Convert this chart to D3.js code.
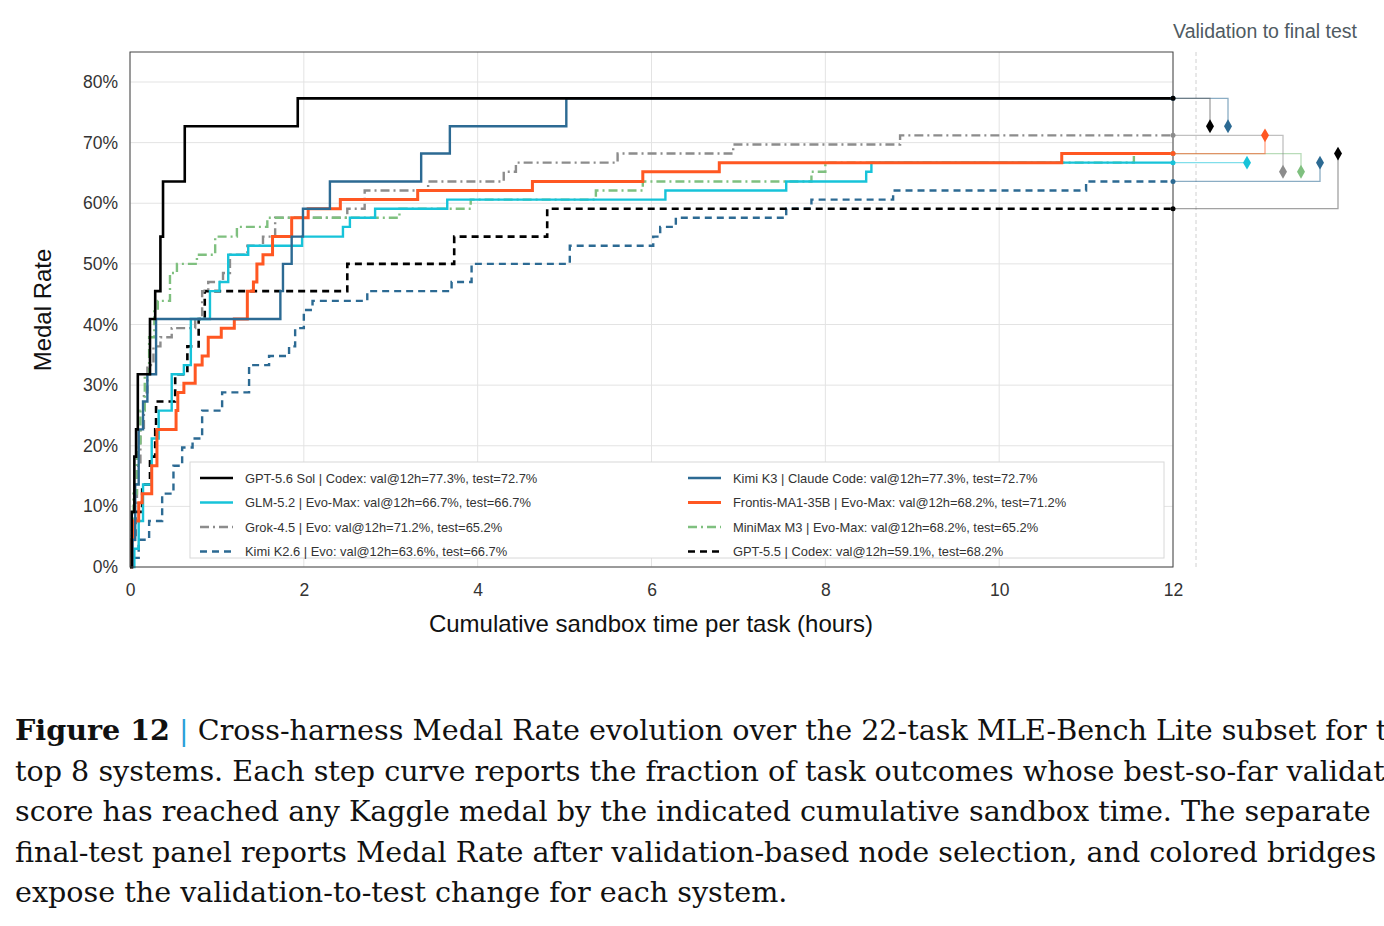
<!DOCTYPE html>
<html><head><meta charset="utf-8">
<script src="https://cdn.jsdelivr.net/npm/d3@7"></script>
<style>
body{margin:0;background:#fff;width:1384px;height:926px;overflow:hidden}
#cap{position:absolute;left:15px;top:710px;width:1353px;font-family:"DejaVu Serif","Liberation Serif",serif;font-size:28.6px;line-height:40.6px;color:#111}
#cap div{text-align:justify;text-align-last:justify;white-space:nowrap}
#cap div.last{text-align-last:left}
</style></head>
<body>
<svg id="chart" width="1384" height="680" style="position:absolute;left:0;top:0"></svg>
<div id="cap">
<div><b>Figure 12</b> <span style="color:#2aa0d8">|</span> Cross-harness Medal Rate evolution over the 22-task MLE-Bench Lite subset for the</div>
<div>top 8 systems. Each step curve reports the fraction of task outcomes whose best-so-far validation</div>
<div>score has reached any Kaggle medal by the indicated cumulative sandbox time. The separate</div>
<div>final-test panel reports Medal Rate after validation-based node selection, and colored bridges</div>
<div class="last">expose the validation-to-test change for each system.</div>
</div>
<script>
// step curves: [hours, medal rate %]
const gpt56 = [[0,0],[.02,9.1],[.05,18.2],[.07,22.7],[.09,31.8],[.23,40.9],[.29,45.5],[.35,54.5],[.38,63.6],[.63,72.7],[1.93,77.3]];
const kimiK3 = [[0,0],[.03,4.5],[.06,13.6],[.1,22.7],[.15,27.3],[.2,31.8],[.3,40.9],[1.73,45.5],[1.76,50],[1.86,54.5],[1.99,59.1],[2.3,63.6],[3.35,68.2],[3.68,72.7],[5.02,77.3]];
const glm52 = [[0,0],[.05,3],[.1,7.6],[.15,13.6],[.25,21.2],[.33,25.8],[.48,31.8],[.62,33.3],[.7,40.9],[.92,45.5],[1.03,47],[1.13,51.5],[1.36,53],[1.98,54.5],[2.45,56.1],[2.53,57.6],[2.82,59.1],[3.65,60.6],[6.16,62.1],[7.55,63.6],[8.47,65.2],[8.53,66.7]];
const frontis = [[0,0],[.02,4.5],[.05,7.6],[.1,10.6],[.14,12.1],[.25,16.7],[.31,22.7],[.53,25.8],[.55,28.8],[.62,30.3],[.75,33.3],[.83,34.8],[.9,37.9],[1.05,39.4],[1.2,40.9],[1.35,45.5],[1.42,47],[1.46,50],[1.53,51.5],[1.64,54.5],[1.86,57.6],[2.05,59.1],[2.42,60.6],[3.31,62.1],[4.63,63.6],[5.9,65.2],[6.78,66.7],[10.72,68.2]];
const grok45 = [[0,0],[.02,4.5],[.05,10.6],[.08,16.7],[.12,22.7],[.16,28.8],[.2,33.3],[.27,36.4],[.35,37.9],[.48,39.4],[.75,40.9],[.83,45.5],[.9,47],[1.07,48.5],[1.15,51.5],[1.35,53],[1.53,54.5],[1.67,57.6],[2.5,59.1],[2.7,62.1],[3.43,63.6],[4.3,65.2],[4.44,66.7],[5.61,68.2],[6.94,69.7],[8.86,71.2]];
const minimax = [[0,0],[.02,6],[.04,12.1],[.08,19.7],[.12,25.8],[.17,31.8],[.22,37.9],[.28,42.4],[.32,43.9],[.46,48.5],[.54,50],[.77,51.5],[.98,54.5],[1.23,56.1],[1.58,57.6],[3.1,59.1],[3.92,60.6],[5.36,62.1],[5.9,63.6],[7.84,65.2],[8.0,66.7],[11.55,68.2]];
const kimiK26 = [[0,0],[.02,1.5],[.1,4.5],[.22,7.6],[.37,12.1],[.5,16.7],[.6,19.7],[.72,21.2],[.83,25.8],[1.06,28.8],[1.37,33.3],[1.6,34.8],[1.83,36.4],[1.9,39.4],[2.0,42.4],[2.1,43.9],[2.73,45.5],[3.7,47],[3.93,50],[5.06,53],[6.02,54.5],[6.1,56.1],[6.28,57.6],[7.55,59.1],[7.84,60.6],[8.78,62.1],[11.0,63.6]];
const gpt55 = [[0,0],[.02,4.5],[.06,9.1],[.14,13.6],[.23,18.2],[.29,22.7],[.3,27.3],[.52,31.8],[.66,36.4],[.79,40.9],[.86,45.5],[2.5,50],[3.73,54.5],[4.8,59.1]];

const names = ['GPT-5.6 Sol | Codex','GLM-5.2 | Evo-Max','Grok-4.5 | Evo','Kimi K2.6 | Evo','Kimi K3 | Claude Code','Frontis-MA1-35B | Evo-Max','MiniMax M3 | Evo-Max','GPT-5.5 | Codex'];
const curves = [gpt56, glm52, grok45, kimiK26, kimiK3, frontis, minimax, gpt55];
const valAt12 = [77.3, 66.7, 71.2, 63.6, 77.3, 68.2, 68.2, 59.1];
const testRate = [72.7, 66.7, 65.2, 66.7, 72.7, 71.2, 65.2, 68.2];
const colors = ['#000000','#17c3d9','#8c8c8c','#2c6a93','#2c6a93','#ff5722','#7fc07f','#000000'];
const dashes = [null,null,'9,4,2,4','7,5',null,null,'9,4,2,4','7,5'];
const widths = [2.6,2.4,2.4,2.4,2.4,3,2.4,2.6];
const bridgeCol = [1210,1247,1283,1320,1228,1265,1301,1338];

const svg = d3.select('#chart');
const m = {l:130, r:1173, t:52, b:567};
const x = d3.scaleLinear().domain([0,12]).range([m.l, m.r]);
const y = d3.scaleLinear().domain([0,80]).range([m.b, 82]);
const font = 'Liberation Sans, Arial, sans-serif';

// grid
const g = svg.append('g');
g.selectAll('.gx').data(d3.range(0,13,2)).join('line')
  .attr('x1', d=>x(d)).attr('x2', d=>x(d)).attr('y1', m.t).attr('y2', m.b)
  .attr('stroke','#e3e3e3');
g.selectAll('.gy').data(d3.range(0,81,10)).join('line')
  .attr('x1', m.l).attr('x2', m.r).attr('y1', d=>y(d)).attr('y2', d=>y(d))
  .attr('stroke','#e3e3e3');

// axes
const xa = svg.append('g').attr('transform',`translate(0,${m.b})`)
  .call(d3.axisBottom(x).tickValues(d3.range(0,13,2)).tickSize(0).tickPadding(17));
const ya = svg.append('g').attr('transform',`translate(${m.l},0)`)
  .call(d3.axisLeft(y).tickValues(d3.range(0,81,10)).tickSize(0).tickPadding(12).tickFormat(d=>d+'%'));
[xa, ya].forEach(a => {
  a.select('.domain').remove();
  a.selectAll('text').attr('font-family',font).attr('font-size',17.5).attr('fill','#333');
});

svg.append('text').attr('x', 651).attr('y', 632).attr('text-anchor','middle')
  .attr('font-family',font).attr('font-size',24).attr('fill','#111')
  .text('Cumulative sandbox time per task (hours)');
svg.append('text').attr('transform',`translate(51,310) rotate(-90)`).attr('text-anchor','middle')
  .attr('font-family',font).attr('font-size',24).attr('fill','#111')
  .text('Medal Rate');

// curves (extend to 12h)
const line = d3.line().x(d=>x(d[0])).y(d=>y(d[1])).curve(d3.curveStepAfter);
const drawOrder = [3,7,2,6,1,5,4,0];
drawOrder.forEach(i => {
  const pts = curves[i].concat([[12, curves[i][curves[i].length-1][1]]]);
  svg.append('path').attr('d', line(pts)).attr('fill','none')
    .attr('stroke', colors[i]).attr('stroke-width', widths[i])
    .attr('stroke-dasharray', dashes[i]);
});

// border
svg.append('rect').attr('x', m.l).attr('y', m.t).attr('width', m.r-m.l).attr('height', m.b-m.t)
  .attr('fill','none').attr('stroke','#444').attr('stroke-width',1);

// final-test panel
svg.append('line').attr('x1',1196).attr('x2',1196).attr('y1',m.t).attr('y2',m.b)
  .attr('stroke','#d0d0d0').attr('stroke-dasharray','4,3');
svg.append('text').attr('x',1357).attr('y',38).attr('text-anchor','end')
  .attr('font-family',font).attr('font-size',19.5).attr('fill','#4f5b62')
  .text('Validation to final test');

[7,3,6,2,5,1,4,0].forEach(i => {
  const cx = bridgeCol[i], yv = y(valAt12[i]), yt = y(testRate[i]);
  const bc = colors[i] === '#000000' ? '#555' : colors[i];
  svg.append('path').attr('d', `M${m.r},${yv}H${cx}V${yt}`).attr('fill','none')
    .attr('stroke', bc).attr('stroke-opacity', 0.55).attr('stroke-width', 1.3);
  svg.append('circle').attr('cx', m.r).attr('cy', yv).attr('r', 2.5).attr('fill', colors[i]);
  svg.append('path').attr('d', d3.symbol(d3.symbolDiamond, 55)()).attr('transform',`translate(${cx},${yt})`)
    .attr('fill', colors[i]);
});

// legend
const lg = svg.append('g');
lg.append('rect').attr('x',190).attr('y',462).attr('width',974).attr('height',96)
  .attr('fill','#fff').attr('stroke','#d8d8d8');
const legendCols = [[0,1,2,3],[4,5,6,7]];
legendCols.forEach((col, c) => col.forEach((i, r) => {
  const lx = c ? 688 : 200, ly = 478 + r*24.5;
  lg.append('line').attr('x1',lx).attr('x2',lx+33).attr('y1',ly).attr('y2',ly)
    .attr('stroke',colors[i]).attr('stroke-width',widths[i]).attr('stroke-dasharray',dashes[i]);
  lg.append('text').attr('x',lx+45).attr('y',ly+4.5)
    .attr('font-family',font).attr('font-size',12.9).attr('fill','#333')
    .text(`${names[i]}: val@12h=${valAt12[i].toFixed(1)}%, test=${testRate[i].toFixed(1)}%`);
}));
</script>
</body></html>
